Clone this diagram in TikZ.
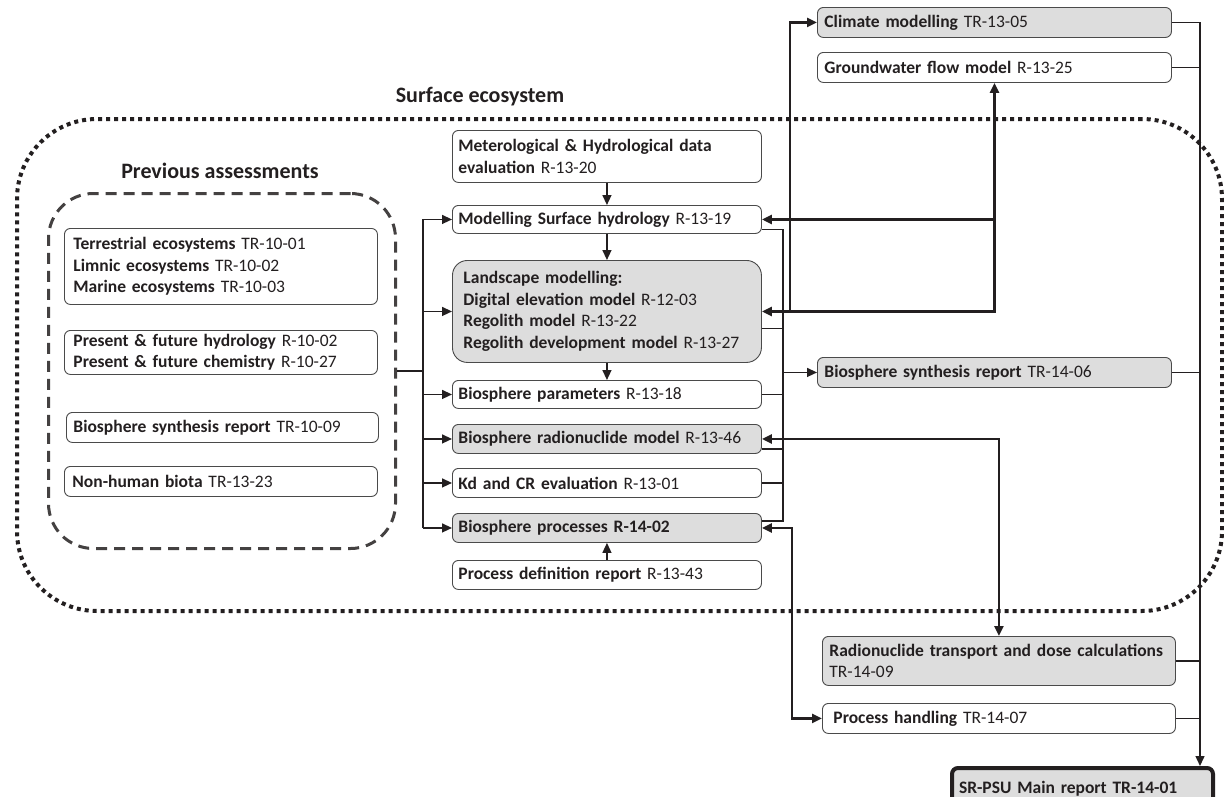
\documentclass[tikz,border=0pt]{standalone}
\usepackage{fontspec}
\setmainfont{Carlito}
\usetikzlibrary{arrows.meta,calc}
\definecolor{ink}{HTML}{231F20}
\definecolor{boxgray}{HTML}{DDDDDD}
\definecolor{edge}{HTML}{4A4A4A}
\begin{document}
\begin{tikzpicture}[x=1pt,y=-1pt,
  font=\fontsize{17.5}{21.5}\selectfont,
  rbox/.style={draw=edge, line width=0.9pt, rounded corners=6pt, anchor=north west,
    inner xsep=7pt, inner ysep=0pt, align=left, text=ink},
  gbox/.style={rbox, fill=boxgray},
  wh/.style 2 args={text width=#1, minimum height=#2},
  thinln/.style={draw=ink, line width=1.4pt},
  thickln/.style={draw=ink, line width=2.6pt},
  tip/.style={-{Triangle[length=10pt,width=9pt]}},
  dtip/.style={{Triangle[length=10pt,width=9pt]}-{Triangle[length=10pt,width=9pt]}},
  eco/.style={draw=ink, line width=4pt, dash pattern=on 4pt off 4pt, rounded corners=80pt, anchor=north west},
  prevst/.style={draw=ink!85, line width=3pt, dash pattern=on 11pt off 7pt, rounded corners=45pt, anchor=north west},
  ttl/.style={font=\fontsize{22}{26}\selectfont\bfseries, text=ink}
]
\useasboundingbox (0,0) rectangle (1224,796);
\fill[white] (0,0) rectangle (1224,796);

% containers
\node[eco, minimum width=1205, minimum height=492] (eco) at (15,117) {};
\node[ttl] (ecot) at (480,97) {Surface ecosystem};
\node[prevst, minimum width=347, minimum height=355] (prev) at (47,192) {};
\node[ttl] (prevt) at (220,171) {Previous assessments};

% left boxes
\node[rbox, wh={295pt}{76pt}, inner xsep=9pt] (terr) at (64,228)
  {\textbf{Terrestrial ecosystems} TR-10-01\\\textbf{Limnic ecosystems} TR-10-02\\\textbf{Marine ecosystems} TR-10-03};
\node[rbox, wh={295pt}{44pt}, inner xsep=9pt] (pres) at (64,330)
  {\textbf{Present \& future hydrology} R-10-02\\\textbf{Present \& future chemistry} R-10-27};
\node[rbox, wh={298pt}{30pt}] (bsyn10) at (66,412) {\textbf{Biosphere synthesis report} TR-10-09};
\node[rbox, wh={297pt}{30pt}, inner xsep=8pt] (nhb) at (64,466) {\textbf{Non-human biota} TR-13-23};

% centre boxes
\node[rbox, wh={297pt}{52pt}, inner xsep=6pt] (met) at (452,130)
  {\textbf{Meterological \& Hydrological data}\\\textbf{evaluation} R-13-20};
\node[rbox, wh={297pt}{28pt}, inner xsep=6pt] (sh) at (452,205) {\textbf{Modelling Surface hydrology} R-13-19};
\node[gbox, wh={287pt}{102pt}, inner xsep=11pt, rounded corners=15pt] (land) at (452,260)
  {\textbf{Landscape modelling:}\\\textbf{Digital elevation model} R-12-03\\\textbf{Regolith model} R-13-22\\\textbf{Regolith development model} R-13-27};
\node[rbox, wh={297pt}{28pt}, inner xsep=6pt] (bpar) at (452,380) {\textbf{Biosphere parameters} R-13-18};
\node[gbox, wh={297pt}{29pt}, inner xsep=6pt] (brn) at (452,424) {\textbf{Biosphere radionuclide model} R-13-46};
\node[rbox, wh={297pt}{29pt}, inner xsep=6pt] (kd) at (452,468) {\textbf{Kd and CR evaluation} R-13-01};
\node[gbox, wh={297pt}{29pt}, inner xsep=6pt] (bproc) at (452,513) {\textbf{Biosphere processes R-14-02}};
\node[rbox, wh={297pt}{29pt}, inner xsep=6pt] (pdef) at (452,560) {\textbf{Process definition report} R-13-43};

% right boxes
\node[gbox, wh={340pt}{30pt}] (clim) at (817,7) {\textbf{Climate modelling} TR-13-05};
\node[rbox, wh={340pt}{30pt}] (gw) at (817,52) {\textbf{Groundwater flow model} R-13-25};
\node[gbox, wh={340pt}{30pt}] (bsyn14) at (817,357) {\textbf{Biosphere synthesis report} TR-14-06};
\node[gbox, wh={339pt}{49pt}] (rnt) at (822,636) {\textbf{Radionuclide transport and dose calculations}\\TR-14-09};
\node[rbox, wh={331pt}{30pt}, inner xsep=11pt] (ph) at (822,703) {\textbf{Process handling} TR-14-07};
\node[gbox, draw=ink, line width=4pt, wh={247pt}{42pt}] (main) at (950,766) {\textbf{SR-PSU Main report TR-14-01}};

% vertical flow in centre column
\draw[thinln,tip] (met.south) -- (sh.north);
\draw[thinln,tip] (sh.south) -- (land.north);
\draw[thinln,tip] (land.south) -- (bpar.north);
\draw[thinln,tip] (pdef.north) -- (bproc.south);

% left bus
\coordinate (lb) at (423,370);
\draw[thinln] (prev.east) -- (prev.east -| lb);
\draw[thinln] (lb |- sh.west) -- (lb |- bproc.west);
\foreach \n in {sh,land,bpar,brn,kd,bproc}
  \draw[thinln,tip] (lb |- \n.west) -- (\n.west);

% right thin bus of centre column
\coordinate (rb) at (783,0);
\draw[thinln] ($(sh.east)+(0,10)$) -| ($(rb |- bproc.east)+(0,-7)$) -- ($(bproc.east)+(0,-7)$);
\draw[thinln] ($(land.east)+(0,17)$) -- ($(rb |- land.east)+(0,17)$);
\draw[thinln] (bpar.east) -- (rb |- bpar.east);
\draw[thinln] ($(brn.east)+(0,10)$) -- ($(rb |- brn.east)+(0,10)$);
\draw[thinln] (kd.east) -- (rb |- kd.east);
\draw[thinln,tip] (rb |- bsyn14.west) -- (bsyn14.west);

% far right bus to main report
\coordinate (fb) at (1200,0);
\draw[thinln,tip] (clim.east) -| (fb |- main.north);
\foreach \n in {gw,bsyn14,rnt,ph}
  \draw[thinln] (\n.east) -- (fb |- \n.east);

% thick connectors
\draw[thickln,tip] ($(land.east)+(28,0)$) |- (clim.west);
\draw[thickln,dtip] (land.east) -- (gw.south |- land.east) -- (gw.south);
\draw[thickln,tip] (gw.south |- sh.east) -- (sh.east);
\draw[thickln,dtip] (brn.east) -| (rnt.north);
\draw[thickln,dtip] (bproc.east) -- ($(bproc.east)+(30,0)$) |- (ph.west);
\end{tikzpicture}
\end{document}
